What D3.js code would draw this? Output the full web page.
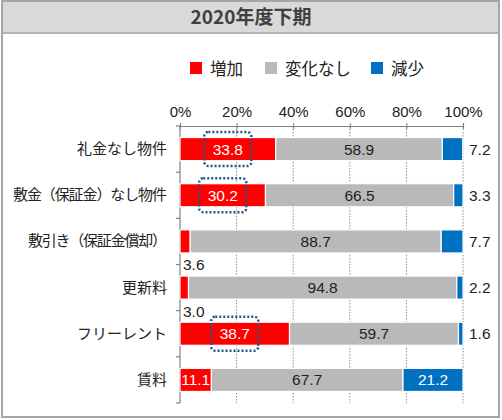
<!DOCTYPE html>
<html lang="ja">
<head>
<meta charset="UTF-8">
<title>2020年度下期</title>
<style>
  body { margin: 0; background: #fff; }
  svg text { font-family: "Noto Sans CJK JP", "Liberation Sans", sans-serif; }
  .num { font-family: "Liberation Sans", Arial, sans-serif; }
</style>
<script src="https://d3js.org/d3.v7.min.js"></script>
</head>
<body>
<div id="chart"></div>
<script>
// chart data
const categories = ["礼金なし物件", "敷金（保証金）なし物件", "敷引き（保証金償却）", "更新料", "フリーレント", "賃料"];
const seriesNames = ["増加", "変化なし", "減少"];
const increase = [33.8, 30.2, 3.6, 3.0, 38.7, 11.1];
const noChange = [58.9, 66.5, 88.7, 94.8, 59.7, 67.7];
const decrease = [7.2, 3.3, 7.7, 2.2, 1.6, 21.2];
const tickValues = [0, 20, 40, 60, 80, 100];
const highlighted = ["礼金なし物件", "敷金（保証金）なし物件", "フリーレント"];

const colors = ["#ff0000", "#b9b9b9", "#0070c0"];
const W = 502, H = 420;

const svg = d3.select("#chart").append("svg")
  .attr("width", W).attr("height", H);

// frame + title bar
svg.append("rect").attr("x", 2).attr("y", 1).attr("width", 497).attr("height", 33)
  .attr("fill", "#d9d9d9");
svg.append("line").attr("x1", 2).attr("x2", 499).attr("y1", 33).attr("y2", 33)
  .attr("stroke", "#a6a6a6").attr("stroke-width", 1.5);
svg.append("rect").attr("x", 2).attr("y", 1).attr("width", 497).attr("height", 416)
  .attr("fill", "none").attr("stroke", "#a6a6a6").attr("stroke-width", 2);
svg.append("text").attr("x", 251).attr("y", 24)
  .attr("text-anchor", "middle").attr("fill", "#404040")
  .style("font-size", "19px").style("font-weight", "bold")
  .text("2020年度下期");

// legend
const legendX = [190, 265, 371];
const legend = svg.append("g");
seriesNames.forEach((name, i) => {
  legend.append("rect").attr("x", legendX[i]).attr("y", 62)
    .attr("width", 12).attr("height", 12).attr("fill", colors[i]);
  legend.append("text").attr("x", legendX[i] + 20).attr("y", 74.5)
    .attr("fill", "#222").style("font-size", "16.5px").text(name);
});

// scales
const x = d3.scaleLinear().domain([0, 100]).range([180, 463]);
const y = d3.scaleBand().domain(categories).range([126, 403])
  .paddingInner(0.5).paddingOuter(0.25);

// gridlines
svg.append("g").selectAll("line")
  .data(tickValues.slice(1))
  .join("line")
  .attr("x1", d => x(d)).attr("x2", d => x(d))
  .attr("y1", 126).attr("y2", 403)
  .attr("stroke", "#8c8c8c").attr("stroke-width", 1)
  .attr("stroke-dasharray", "1.5,1.5");

// top axis
const xAxis = svg.append("g").attr("transform", "translate(0,126)")
  .call(d3.axisTop(x).tickValues(tickValues).tickFormat(d => d + "%").tickSize(3).tickPadding(8));
xAxis.select(".domain").attr("stroke", "#808080").attr("stroke-width", 1.2);
xAxis.selectAll(".tick line").attr("stroke", "#808080").attr("y2", 3).attr("y1", -3);
xAxis.selectAll(".tick text").attr("class", "num").attr("fill", "#222")
  .style("font-size", "15px").attr("y", -9);

// left axis
svg.append("line").attr("x1", 180).attr("x2", 180).attr("y1", 126).attr("y2", 403)
  .attr("stroke", "#808080").attr("stroke-width", 1.2);
const bounds = categories.map(c => y(c) - y.step() * 0.25).concat([403]);
svg.append("g").selectAll("line").data(bounds).join("line")
  .attr("x1", 176).attr("x2", 180).attr("y1", d => d).attr("y2", d => d)
  .attr("stroke", "#808080").attr("stroke-width", 1.2);

// category labels (parentheses rendered narrower, like the original)
svg.append("g").selectAll("text").data(categories).join("text")
  .attr("x", 167).attr("y", d => y(d) + y.bandwidth() / 2 + 5)
  .attr("text-anchor", "end").attr("fill", "#222")
  .style("font-size", "15px").text(d => d)
  .each(function(d) {
    if (d.includes("（")) {
      const w = this.getComputedTextLength();
      d3.select(this).attr("textLength", w - 11).attr("lengthAdjust", "spacing");
    }
  });

// stacked bars
const rows = categories.map((c, i) => ({ cat: c, vals: [increase[i], noChange[i], decrease[i]] }));
const segs = [];
rows.forEach(r => {
  let acc = 0;
  r.vals.forEach((v, k) => {
    segs.push({ cat: r.cat, k, v, x0: acc, x1: acc + v });
    acc += v;
  });
});

svg.append("g").selectAll("rect").data(segs).join("rect")
  .attr("x", d => x(d.x0)).attr("width", d => x(d.x1) - x(d.x0))
  .attr("y", d => y(d.cat)).attr("height", y.bandwidth())
  .attr("fill", d => colors[d.k])
  .attr("stroke", "#fff").attr("stroke-width", 1.2);

// value labels
const labels = svg.append("g");
segs.forEach(d => {
  const cy = y(d.cat) + y.bandwidth() / 2;
  const t = labels.append("text").attr("class", "num").style("font-size", "15.5px")
    .text(d.v.toFixed(1));
  if (d.v >= 10) {
    t.attr("x", x((d.x0 + d.x1) / 2)).attr("y", cy + 5.5).attr("text-anchor", "middle")
      .attr("fill", d.k === 1 ? "#222" : "#fff");
  } else if (d.k === 0) {
    t.attr("x", x(0) + 3).attr("y", cy + 29).attr("fill", "#222");
  } else {
    t.attr("x", x(100) + 6).attr("y", cy + 5.5).attr("fill", "#222");
  }
});

// highlight boxes
svg.append("g").selectAll("rect")
  .data(rows.filter(r => highlighted.includes(r.cat)))
  .join("rect")
  .attr("x", d => x(d.vals[0] / 2) - 23.5)
  .attr("y", d => y(d.cat) + y.bandwidth() / 2 - 17)
  .attr("width", 47).attr("height", 34).attr("rx", 4)
  .attr("fill", "none").attr("stroke", "#1f5584").attr("stroke-width", 2.5)
  .attr("stroke-dasharray", "2,2");
</script>
</body>
</html>
